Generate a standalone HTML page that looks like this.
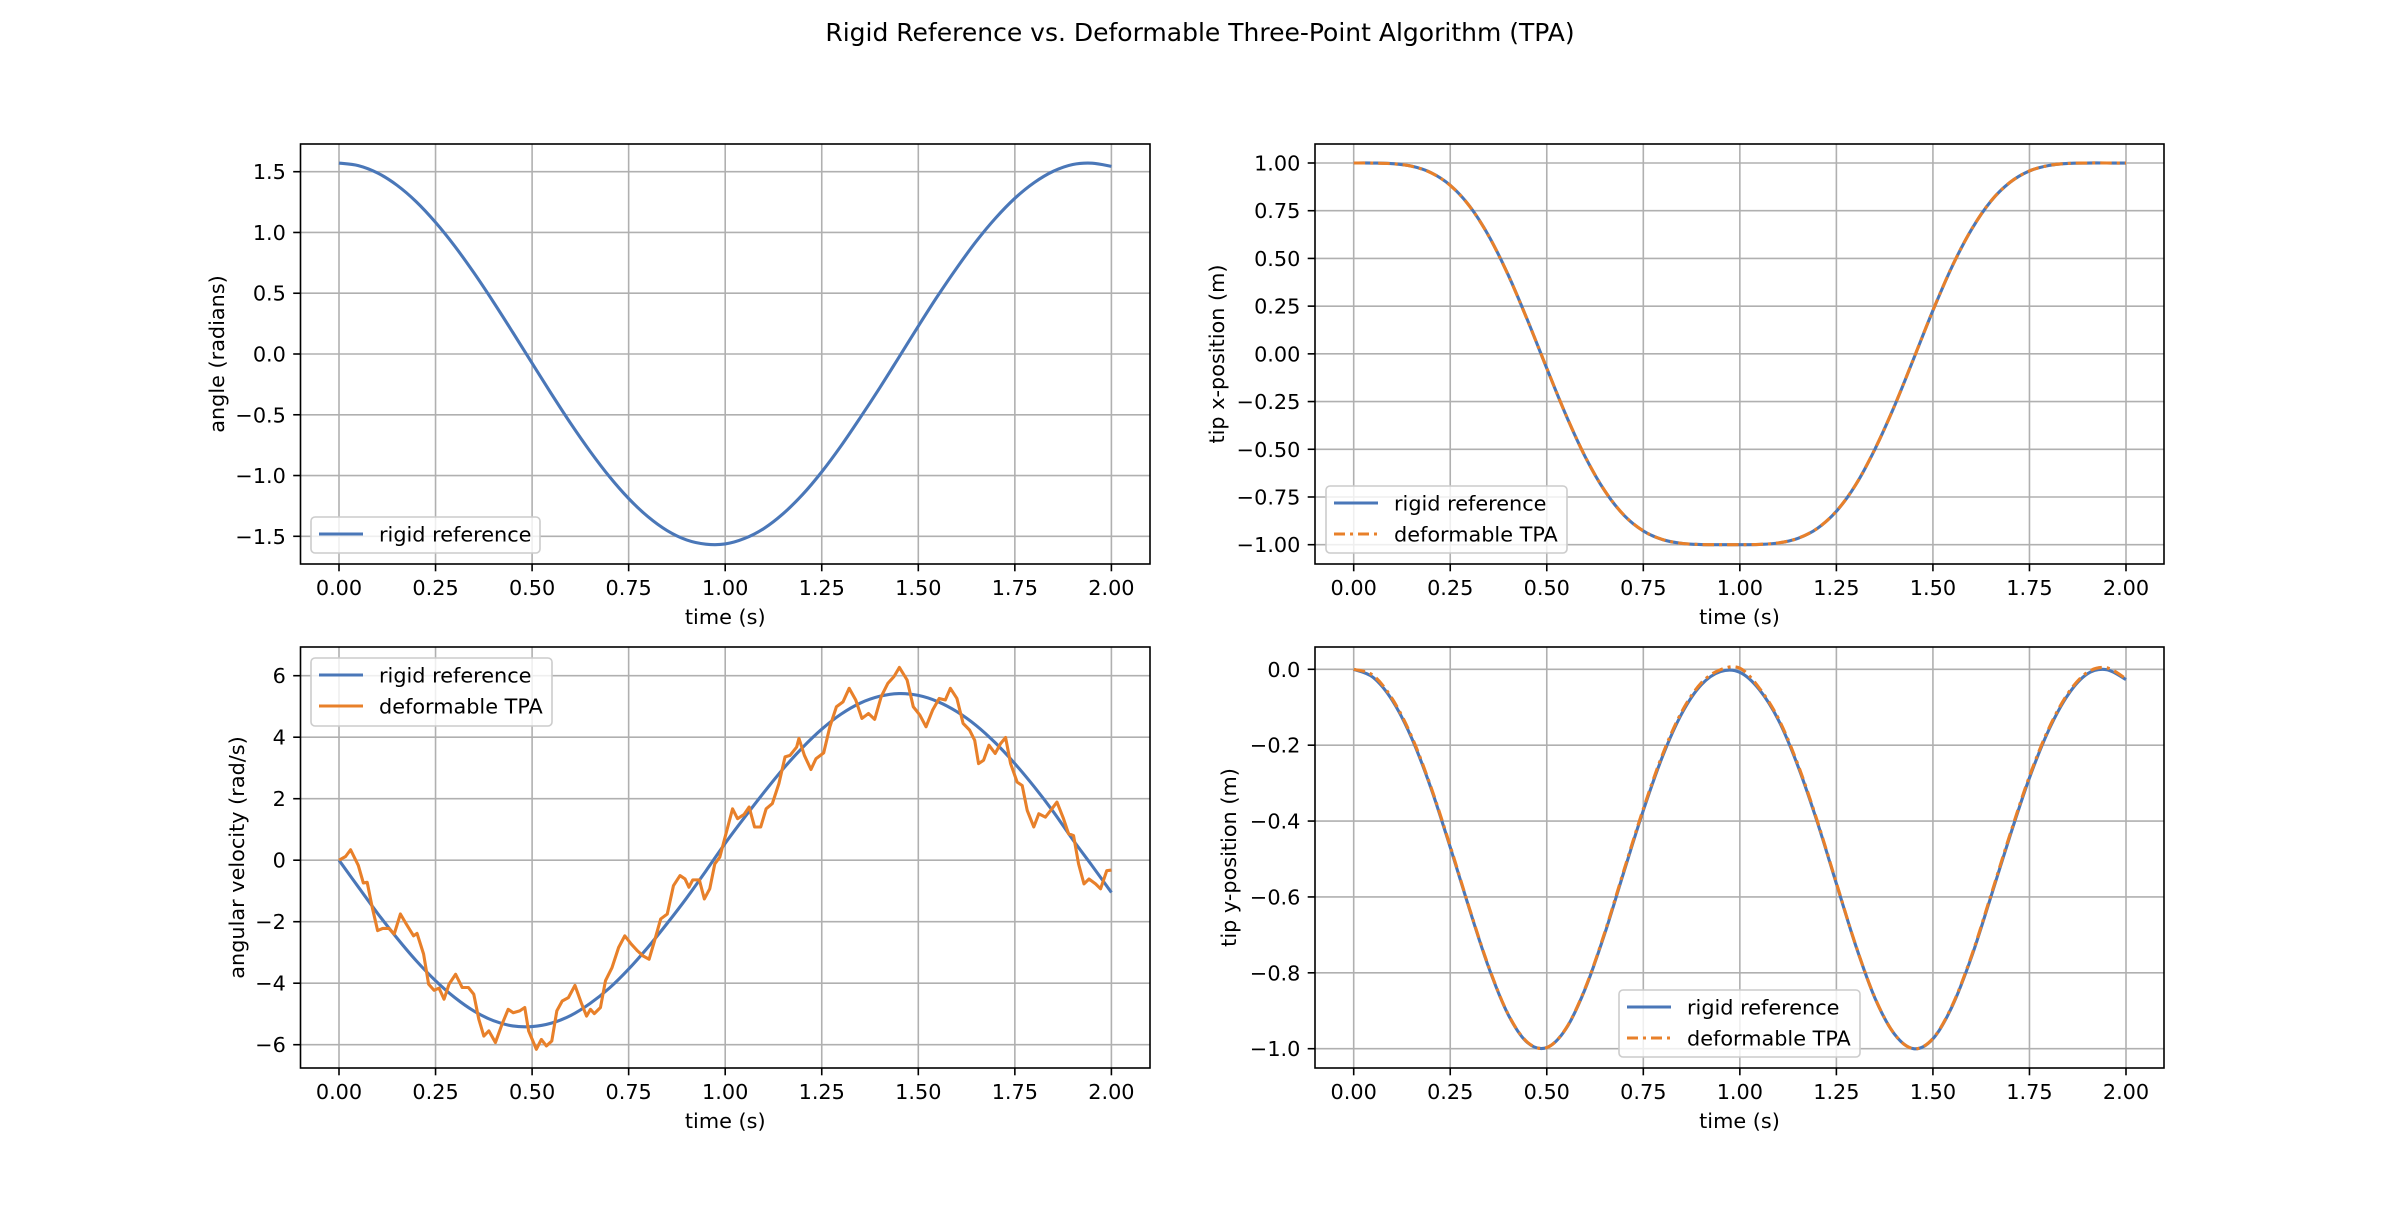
<!DOCTYPE html>
<html><head><meta charset="utf-8"><style>
html,body{margin:0;padding:0;background:#fff;}
svg text{font-family:"DejaVu Sans","Liberation Sans",sans-serif;fill:#000;}
</style></head><body>
<svg id="fig" xmlns="http://www.w3.org/2000/svg" width="2400" height="1200" viewBox="0 0 2400 1200">
<rect width="2400" height="1200" fill="#fff"/>
<text x="1200" y="41" font-size="25" text-anchor="middle">Rigid Reference vs. Deformable Three-Point Algorithm (TPA)</text>
</svg>
<script>
const timeTicks = ["0.00","0.25","0.50","0.75","1.00","1.25","1.50","1.75","2.00"];
const tGrid = [0,0.05,0.1,0.15,0.2,0.25,0.3,0.35,0.4,0.45,0.5,0.55,0.6,0.65,0.7,0.75,0.8,0.85,0.9,0.95,1.0,1.05,1.1,1.15,1.2,1.25,1.3,1.35,1.4,1.45,1.5,1.55,1.6,1.65,1.7,1.75,1.8,1.85,1.9,1.95,2.0];
const angleRigid = [1.571,1.550,1.489,1.389,1.253,1.083,0.886,0.665,0.427,0.178,-0.076,-0.328,-0.572,-0.800,-1.008,-1.189,-1.339,-1.454,-1.530,-1.565,-1.563,-1.518,-1.436,-1.314,-1.158,-0.970,-0.756,-0.522,-0.279,-0.026,0.229,0.477,0.710,0.927,1.118,1.281,1.410,1.504,1.559,1.570,1.544];
const velRigid = [0,-0.87,-1.73,-2.53,-3.27,-3.92,-4.47,-4.91,-5.22,-5.39,-5.41,-5.30,-5.05,-4.66,-4.16,-3.54,-2.83,-2.05,-1.23,-0.35,0.55,1.39,2.20,2.97,3.66,4.26,4.75,5.11,5.33,5.42,5.36,5.16,4.83,4.38,3.81,3.14,2.39,1.57,0.67,-0.18,-1.05];
const tpaTime = [0,0.017,0.03,0.05,0.063,0.073,0.086,0.1,0.113,0.129,0.143,0.159,0.173,0.193,0.202,0.219,0.232,0.246,0.259,0.272,0.285,0.302,0.319,0.335,0.349,0.362,0.375,0.388,0.405,0.422,0.438,0.451,0.468,0.481,0.491,0.511,0.524,0.537,0.551,0.564,0.578,0.594,0.611,0.627,0.641,0.651,0.661,0.677,0.69,0.707,0.724,0.74,0.757,0.773,0.787,0.803,0.817,0.833,0.85,0.866,0.883,0.896,0.906,0.916,0.933,0.946,0.96,0.973,0.986,1.002,1.019,1.032,1.049,1.062,1.076,1.092,1.106,1.122,1.139,1.155,1.168,1.185,1.191,1.205,1.222,1.235,1.255,1.271,1.288,1.305,1.321,1.338,1.354,1.371,1.387,1.404,1.421,1.437,1.451,1.471,1.487,1.504,1.52,1.537,1.554,1.57,1.583,1.6,1.616,1.633,1.646,1.656,1.669,1.683,1.699,1.713,1.726,1.739,1.756,1.769,1.782,1.799,1.812,1.829,1.846,1.859,1.876,1.889,1.902,1.915,1.929,1.942,1.959,1.972,1.988,2.0];
const velTpa = [0,0.12,0.34,-0.17,-0.74,-0.72,-1.53,-2.29,-2.22,-2.22,-2.40,-1.75,-2.05,-2.46,-2.38,-3.05,-4.03,-4.23,-4.16,-4.52,-4.03,-3.71,-4.14,-4.14,-4.36,-5.17,-5.72,-5.55,-5.93,-5.34,-4.85,-4.96,-4.90,-4.79,-5.55,-6.15,-5.83,-6.04,-5.88,-4.90,-4.58,-4.47,-4.07,-4.63,-5.07,-4.85,-4.99,-4.79,-3.92,-3.49,-2.84,-2.46,-2.73,-2.95,-3.11,-3.22,-2.62,-1.91,-1.75,-0.83,-0.50,-0.61,-0.88,-0.64,-0.64,-1.26,-0.93,-0.12,0.10,0.86,1.67,1.35,1.49,1.73,1.08,1.08,1.67,1.84,2.49,3.36,3.41,3.68,3.96,3.41,2.95,3.30,3.49,4.34,4.99,5.15,5.59,5.21,4.61,4.77,4.58,5.32,5.75,5.97,6.27,5.86,4.99,4.72,4.34,4.88,5.26,5.21,5.59,5.26,4.45,4.23,3.90,3.14,3.25,3.74,3.47,3.79,3.99,3.14,2.54,2.43,1.62,1.08,1.51,1.40,1.67,1.89,1.35,0.86,0.80,-0.12,-0.77,-0.61,-0.77,-0.93,-0.34,-0.32];
const tipXRigid = [1.000,0.9998,0.9966,0.9835,0.9498,0.8834,0.7744,0.6171,0.4141,0.1771,-0.0759,-0.3222,-0.5413,-0.7174,-0.8459,-0.9281,-0.9734,-0.9932,-0.9992,-1.0,-1.0,-0.9986,-0.9910,-0.9673,-0.9159,-0.8249,-0.6862,-0.4986,-0.2754,-0.0260,0.2270,0.4591,0.6518,0.7998,0.8990,0.9584,0.9870,0.9978,0.9999,1.0,0.9996];
const tipXTpa = [1.000,0.9997,0.9962,0.9829,0.9490,0.8826,0.7738,0.6160,0.4130,0.1765,-0.0752,-0.3215,-0.5405,-0.7168,-0.8452,-0.9276,-0.9730,-0.9930,-0.9990,-0.9998,-0.9998,-0.9984,-0.9905,-0.9668,-0.9152,-0.8241,-0.6855,-0.4979,-0.2746,-0.0252,0.2276,0.4598,0.6523,0.8003,0.8994,0.9586,0.9871,0.9978,0.9999,1.0,0.9996];
const tipYRigid = [0,-0.021,-0.082,-0.181,-0.313,-0.469,-0.633,-0.787,-0.910,-0.984,-0.997,-0.947,-0.841,-0.697,-0.533,-0.372,-0.229,-0.116,-0.041,-0.006,-0.008,-0.053,-0.134,-0.254,-0.401,-0.565,-0.728,-0.867,-0.961,-1.000,-0.974,-0.888,-0.758,-0.600,-0.438,-0.286,-0.160,-0.067,-0.012,-0.001,-0.027];
const tipYTpa = [0,-0.016,-0.078,-0.177,-0.310,-0.466,-0.631,-0.785,-0.909,-0.983,-0.997,-0.946,-0.839,-0.694,-0.529,-0.368,-0.224,-0.111,-0.036,-0.001,0.003,-0.049,-0.130,-0.250,-0.398,-0.563,-0.727,-0.866,-0.961,-1.000,-0.973,-0.886,-0.755,-0.596,-0.434,-0.282,-0.156,-0.063,-0.008,0.004,-0.025];
const angleTicks = [1.5,1.0,0.5,0.0,-0.5,-1.0,-1.5];
const velTicks = [6,4,2,0,-2,-4,-6];
const tipXTicks = [1.0,0.75,0.5,0.25,0,-0.25,-0.5,-0.75,-1.0];
const tipYTicks = [0,-0.2,-0.4,-0.6,-0.8,-1.0];

const NS="http://www.w3.org/2000/svg";
const fig=document.getElementById('fig');
const BLUE="#4a77b8", ORANGE="#e8802a";
function mk(tag,attrs,parent){const e=document.createElementNS(NS,tag);for(const k in attrs)e.setAttribute(k,attrs[k]);(parent||fig).appendChild(e);return e;}
function fmt(v,d){let s=v.toFixed(d);if(v<0)s="\u2212"+s.slice(1);if(parseFloat(s.replace("\u2212","-"))===0)s=(0).toFixed(d);return s;}
function smoothPath(xs,ys){
  let d="M"+xs[0].toFixed(2)+","+ys[0].toFixed(2);
  for(let i=0;i<xs.length-1;i++){
    const i0=Math.max(0,i-1),i3=Math.min(xs.length-1,i+2);
    const c1x=xs[i]+(xs[i+1]-xs[i0])/6,c1y=ys[i]+(ys[i+1]-ys[i0])/6;
    const c2x=xs[i+1]-(xs[i3]-xs[i])/6,c2y=ys[i+1]-(ys[i3]-ys[i])/6;
    d+="C"+c1x.toFixed(2)+","+c1y.toFixed(2)+" "+c2x.toFixed(2)+","+c2y.toFixed(2)+" "+xs[i+1].toFixed(2)+","+ys[i+1].toFixed(2);
  }
  return d;
}
function linePath(xs,ys){return xs.map((x,i)=>(i?"L":"M")+x.toFixed(2)+","+ys[i].toFixed(2)).join("");}

function panel(cfg){
  const g=mk('g',{});
  
  
  const L=cfg.L,R=cfg.R,T=cfg.T,B=cfg.B;
  const x0=cfg.x0,x2=cfg.x2;
  const sx=t=>x0+(x2-x0)*t/2;
  const sy=v=>cfg.ya+(cfg.yb-cfg.ya)*(v-cfg.va)/(cfg.vb-cfg.va);
  const clipId=cfg.name+"-clip";
  const cp=mk('clipPath',{id:clipId},g);mk('rect',{x:L,y:T,width:R-L,height:B-T},cp);
  // grid
  timeTicks.forEach(lbl=>{
    const x=sx(parseFloat(lbl));
    const gl=mk('line',{x1:x,x2:x,y1:T,y2:B,stroke:"#b0b0b0","stroke-width":1.6},g);
    
    
    mk('line',{x1:x,x2:x,y1:B,y2:B+7.3,stroke:"#000","stroke-width":1.6},g);
    const tx=mk('text',{x:x,y:B+31,"font-size":20.8,"text-anchor":"middle"},g);
    tx.textContent=lbl;
    
    
  });
  cfg.yticks.forEach(v=>{
    const y=sy(v);
    const gl=mk('line',{x1:L,x2:R,y1:y,y2:y,stroke:"#b0b0b0","stroke-width":1.6},g);
    
    
    mk('line',{x1:L-7.3,x2:L,y1:y,y2:y,stroke:"#000","stroke-width":1.6},g);
    const tx=mk('text',{x:L-14.6,y:y+7.5,"font-size":20.8,"text-anchor":"end"},g);
    tx.textContent=fmt(v,cfg.dec);
    
    
  });
  // series
  const sg=mk('g',{"clip-path":"url(#"+clipId+")"},g);
  cfg.series.forEach(s=>{
    const xs=s.t.map(sx), ys=s.v.map(sy);
    const p=mk('path',{d:s.smooth?smoothPath(xs,ys):linePath(xs,ys),fill:"none",stroke:s.color,"stroke-width":3.1,"stroke-linejoin":"round"},sg);
    if(s.dash)p.setAttribute('stroke-dasharray',s.dash);
    
    
  });
  // spines
  const fr=mk('rect',{x:L,y:T,width:R-L,height:B-T,fill:"none",stroke:"#000","stroke-width":1.6},g);
  
  
  // labels
  const xl=mk('text',{x:(L+R)/2,y:B+60,"font-size":20.8,"text-anchor":"middle"},g);
  xl.textContent="time (s)";
  
  
  const yl=mk('text',{x:0,y:0,"font-size":20.8,"text-anchor":"middle",transform:"translate("+cfg.ylx+","+(T+B)/2+") rotate(-90)"},g);
  yl.textContent=cfg.ylabel;
  
  
  // legend
  const lg=cfg.legend;
  const lgg=mk('g',{},g);
  
  
  mk('rect',{x:lg.x,y:lg.y,width:lg.w,height:lg.h,rx:4,fill:"#fff","fill-opacity":0.8,stroke:"#cccccc","stroke-width":1.6},lgg);
  lg.items.forEach((it,i)=>{
    const y=lg.y+lg.first+i*31;
    const ln=mk('line',{x1:lg.x+8,x2:lg.x+52,y1:y,y2:y,stroke:it.color,"stroke-width":3.1},lgg);
    if(it.dash)ln.setAttribute('stroke-dasharray',it.dash);
    const tx=mk('text',{x:lg.x+68,y:y+7.5,"font-size":20.8},lgg);
    tx.textContent=it.label;
    
    
  });
}
const dashDot="11.5,5,3,5";
panel({name:"angle-panel",L:300.5,R:1150,T:144,B:564,x0:339,x2:1111.4,va:1.5,vb:-1.5,ya:171.7,yb:536.3,yticks:angleTicks,dec:1,ylabel:"angle (radians)",ylx:224,
  series:[{name:"rigid-angle-line",t:tGrid,v:angleRigid,color:BLUE,smooth:true}],
  legend:{x:311,y:517,w:229,h:36,first:17,items:[{label:"rigid reference",color:BLUE}]}});
panel({name:"velocity-panel",L:300.5,R:1150,T:647,B:1068,x0:339,x2:1111.4,va:6,vb:-6,ya:675.7,yb:1044.7,yticks:velTicks,dec:0,ylabel:"angular velocity (rad/s)",ylx:244,
  series:[{name:"rigid-velocity-line",t:tGrid,v:velRigid,color:BLUE,smooth:true},{name:"tpa-velocity-line",t:tpaTime,v:velTpa,color:ORANGE,smooth:false}],
  legend:{x:311,y:658,w:241,h:68,first:17,items:[{label:"rigid reference",color:BLUE},{label:"deformable TPA",color:ORANGE}]}});
panel({name:"tip-x-panel",L:1315,R:2164,T:144,B:564,x0:1353.7,x2:2126,va:1,vb:-1,ya:163,yb:544.7,yticks:tipXTicks,dec:2,ylabel:"tip x-position (m)",ylx:1224,
  series:[{name:"rigid-tip-x-line",t:tGrid,v:tipXRigid,color:BLUE,smooth:true},{name:"tpa-tip-x-line",t:tGrid,v:tipXTpa,color:ORANGE,smooth:true,dash:dashDot}],
  legend:{x:1326,y:486,w:241,h:67,first:17,items:[{label:"rigid reference",color:BLUE},{label:"deformable TPA",color:ORANGE,dash:"11,5,3,5"}]}});
panel({name:"tip-y-panel",L:1315,R:2164,T:647,B:1068,x0:1353.7,x2:2126,va:0,vb:-1,ya:669.3,yb:1048.7,yticks:tipYTicks,dec:1,ylabel:"tip y-position (m)",ylx:1236,
  series:[{name:"rigid-tip-y-line",t:tGrid,v:tipYRigid,color:BLUE,smooth:true},{name:"tpa-tip-y-line",t:tGrid,v:tipYTpa,color:ORANGE,smooth:true,dash:dashDot}],
  legend:{x:1619,y:990,w:241,h:67,first:17,items:[{label:"rigid reference",color:BLUE},{label:"deformable TPA",color:ORANGE,dash:"11,5,3,5"}]}});
</script>
</body></html>
